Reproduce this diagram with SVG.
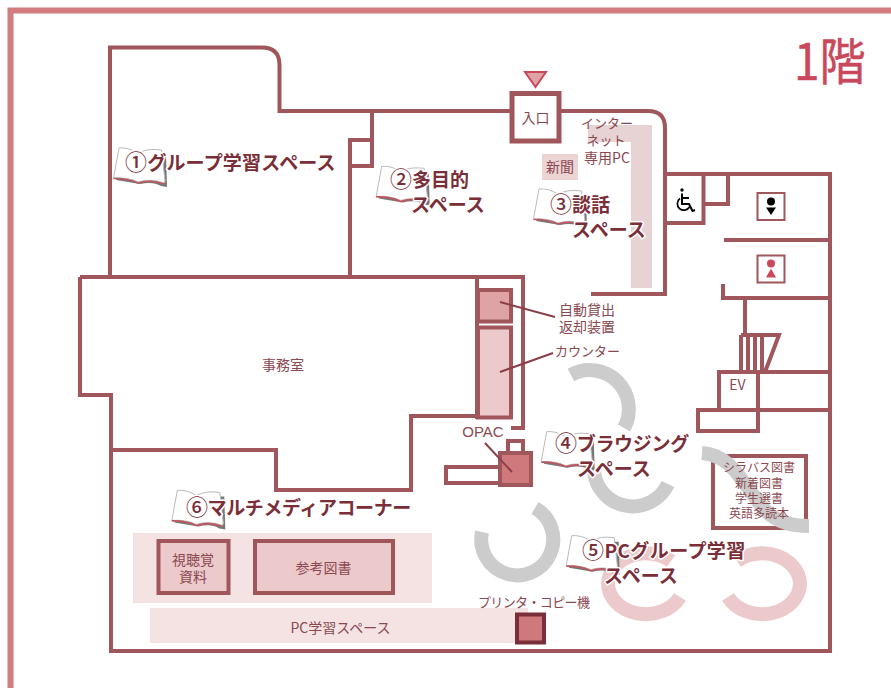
<svg xmlns="http://www.w3.org/2000/svg" width="891" height="688" viewBox="0 0 891 688">
<style>
text{font-family:"Noto Sans CJK JP","Noto Sans",sans-serif}
.w{fill:none;stroke:#a0575c;stroke-width:4;stroke-linejoin:miter}
.t{fill:#8a4850;font-size:13px;text-anchor:middle}
.m{font-size:14px}
.s{font-size:12px}
.h{fill:#7a2f38;font-size:19px;font-weight:700;stroke:#fff;stroke-width:3px;paint-order:stroke;stroke-linejoin:round}
.n{font-size:22px;font-weight:500}
.g{fill:none;stroke:#cccccc;stroke-width:14}
.p{fill:none;stroke:#ecc9cb;stroke-width:14}
.l{fill:none;stroke:#8a3f47;stroke-width:2}
</style>
<defs>
<g id="book">
<path d="M3 33 L27 37 Q40 34 48 39 L54 40 L53 7 L49 7 L50 34 L5 30Z" fill="#777"/>
<path d="M0.5 31 Q14 30 25 35 Q38 31 51 36 L52 34 L48.5 3 Q35 1 25 6 Q15 0 6 1Z" fill="#fff" stroke="#bbb" stroke-width="1"/>
<path d="M0.5 31.5 Q14 31 25 36 Q38 32 51 37" fill="none" stroke="#c0575f" stroke-width="1.6"/>
</g>
</defs>
<path id="frame" d="M10.5 688V10.5H891" fill="none" stroke="#d47d80" stroke-width="6"/>
<g id="shading">
<path d="M588 125H652V288H631V142H588Z" fill="#e8d3d4"/>
<rect x="542" y="154" width="36" height="26" fill="#ecd3d4"/>
<rect x="133" y="533" width="299" height="70" fill="#f5e2e3"/>
<rect x="150" y="608" width="378" height="35" fill="#f5e2e3"/>
</g>
<g id="walls">
<path class="w" d="M110 278V47.5H262Q279.500 47.500 279.500 65V111H512M560 111H648Q665 111 665 128V294H591"/>
<path class="w" d="M372 111V166H350M372 140H350V278"/>
<path class="w" d="M477 277H523V428H511M477 277V419M80 277H477M80 277V395H111V651H830V174H665M111 450H276V490H411V416H477"/>
<path class="w" d="M703.500 174V223H665M728 174V204H704M724 240H830M723 284V298H830M745 298V335"/>
<path class="w" d="M741 335H779L765 372M741 335V372M748 335V372M755 335V372M762 335V372"/>
<path class="w" d="M719 410V372H830M758 372V431H698V410H830"/>
<path class="w" d="M512 93.500H559V141H512Z" style="stroke-width:5"/>
<rect class="w" x="446" y="467" width="54" height="16"/>
<rect class="w" x="508" y="441" width="15" height="12"/>
<rect class="w" x="713" y="456" width="93" height="72"/>
</g>
<g id="arcs">
<path class="g" d="M571 375A39 39 0 0 1 624 428"/>
<path class="g" d="M594 472A39 39 0 0 0 668 484"/>
<path class="g" d="M482 532A36 36 0 1 0 535 508"/>
<path class="g" d="M702 453C735 455 745 490 767 512C780 524 795 526 809 526"/>
<path class="p" d="M671 561A38 31 0 0 0 608 583A38 31 0 0 0 680 597"/>
<path class="p" d="M737 561A38 31 0 0 1 800 583A38 31 0 0 1 728 597"/>
</g>
<g id="counter">
<rect x="478" y="290" width="33" height="31.500" fill="#dfa3a6" stroke="#a0575c" stroke-width="4"/>
<rect x="478" y="327.500" width="33" height="90" fill="#ecc9cb" stroke="#a0575c" stroke-width="4"/>
<path class="l" d="M500 302L555 317M500 372L553 353"/>
</g>
<g id="opac">
<rect x="500" y="453" width="31" height="32" fill="#d0797d" stroke="#a0575c" stroke-width="4"/>
<path class="l" d="M485 443L512 472"/>
<text class="t" style="font-size:15px;font-family:'Liberation Sans',sans-serif" x="483" y="437">OPAC</text>
</g>
<g id="printer">
<rect x="517" y="614.500" width="27" height="28" fill="#d0797d" stroke="#7a2f38" stroke-width="4"/>
<text class="t" x="534" y="607" textLength="112" lengthAdjust="spacing">プリンタ・コピー機</text>
</g>
<g id="entrance">
<path d="M525 72H546L535.500 87Z" fill="#dfa3a6" stroke="#c9485c" stroke-width="2"/>
<text class="t m" x="535.500" y="123">入口</text>
</g>
<g id="wheelchair" fill="none" stroke="#000" stroke-width="1.700">
<circle cx="682" cy="190" r="1.700" fill="#000" stroke="none"/>
<path d="M682 193.500V204H689L692.500 211L695 210M682 198H689" stroke-width="2"/>
<path d="M680 198.500A6.500 6.500 0 1 0 689.500 207"/>
</g>
<g id="wc-men">
<rect x="757.500" y="193" width="27" height="27" fill="#fff" stroke="#a0575c" stroke-width="2"/>
<circle cx="771" cy="201.500" r="4" fill="#000"/>
<path d="M766 207.500H776L771 215Z" fill="#000"/>
</g>
<g id="wc-women">
<rect x="757.500" y="255.500" width="27" height="27" fill="#fff" stroke="#a0575c" stroke-width="2"/>
<circle cx="771" cy="263.500" r="4" fill="#c9485c"/>
<path d="M771 268.500L776 277.500H766Z" fill="#c9485c"/>
</g>
<g id="media">
<rect x="158.500" y="541" width="70" height="52" fill="#ecc9cb" stroke="#a0575c" stroke-width="4"/>
<rect x="255" y="541" width="138" height="52" fill="#ecc9cb" stroke="#a0575c" stroke-width="4"/>
<text class="t m" x="193" y="565">視聴覚</text>
<text class="t m" x="193" y="582">資料</text>
<text class="t m" x="323.500" y="573">参考図書</text>
<text class="t m" x="340.500" y="633">PC学習スペース</text>
</g>
<g id="labels">
<text class="t" x="607" y="128">インター</text>
<text class="t" x="606" y="145">ネット</text>
<text class="t m" x="607" y="163">専用PC</text>
<text class="t m" x="560" y="172">新聞</text>
<text class="t m" x="587" y="315">自動貸出</text>
<text class="t m" x="587" y="332">返却装置</text>
<text class="t" x="587.500" y="356">カウンター</text>
<text class="t m" x="283" y="370">事務室</text>
<text class="t m" x="737.500" y="390">EV</text>
<text class="t s" x="759" y="472">シラバス図書</text>
<text class="t s" x="759" y="488">新着図書</text>
<text class="t s" x="759" y="503">学生選書</text>
<text class="t s" x="759" y="518">英語多読本</text>
</g>
<g id="room1"><use href="#book" x="113" y="147"/><text class="h" x="125" y="170" letter-spacing=".2"><tspan class="n">①</tspan>グループ学習スペース</text></g>
<g id="room2"><use href="#book" x="375.700" y="165.400"/><text class="h" x="390" y="187"><tspan class="n">②</tspan>多目的</text><text class="h" x="411" y="212">スペース</text></g>
<g id="room3"><use href="#book" x="533" y="188"/><text class="h" x="550" y="212"><tspan class="n">③</tspan>談話</text><text class="h" x="572" y="237">スペース</text></g>
<g id="room4"><use href="#book" x="540.700" y="430.700"/><text class="h" x="555" y="451" letter-spacing="-.3"><tspan class="n">④</tspan>ブラウジング</text><text class="h" x="577" y="476">スペース</text></g>
<g id="room5"><use href="#book" x="565.700" y="534.700"/><text class="h" x="582" y="558" letter-spacing=".4"><tspan class="n">⑤</tspan>PCグループ学習</text><text class="h" x="604" y="583">スペース</text></g>
<g id="room6"><use href="#book" x="171.300" y="489.400"/><text class="h" x="186" y="515" letter-spacing="-.4"><tspan class="n">⑥</tspan>マルチメディアコーナー</text></g>
<text id="floor" transform="translate(794 80) scale(.92 1)" font-size="50" fill="#c9485c" stroke="#c9485c" stroke-width=".5" stroke-linejoin="round">1階</text>
</svg>
